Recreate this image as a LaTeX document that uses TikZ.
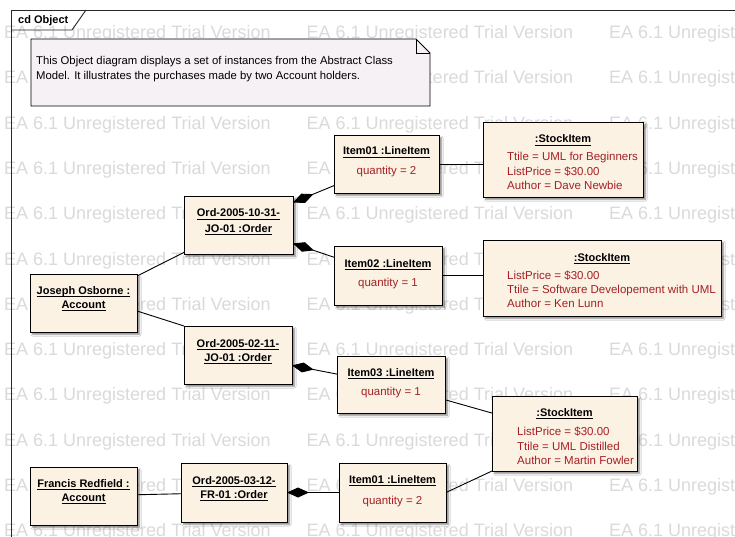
\documentclass[tikz,border=0pt]{standalone}
\usepackage{fontspec}
\setmainfont{Liberation Sans}
\usetikzlibrary{arrows.meta,shadows.blur}

\definecolor{objfill}{RGB}{251,242,228}
\definecolor{notefill}{RGB}{246,241,245}
\definecolor{attred}{RGB}{165,32,36}
\definecolor{wmgray}{RGB}{218,218,218}
\definecolor{framegray}{RGB}{40,40,40}

% underlined object name with a fixed rule position
\newcommand\objname[1]{\begingroup\setbox0=\hbox{#1}\rlap{\rule[-2.6pt]{\wd0}{0.8pt}}\box0\endgroup}
\newcommand\umlfont{\fontsize{11}{13}\selectfont}
\newcommand\valfont{\fontsize{11.5}{13}\selectfont}
\newcommand\commentfont{\fontsize{11.3}{13}\selectfont}

\tikzset{
  obj/.style={draw=black, line width=0.9pt, fill=objfill, inner sep=0pt, outer sep=0pt,
    blur shadow={shadow xshift=2.5pt, shadow yshift=-2.5pt, shadow blur radius=1.5pt, shadow opacity=45}},
  ttl/.style={font=\umlfont\bfseries, anchor=base, inner sep=0pt},
  qty/.style={font=\valfont, text=attred, anchor=base, inner sep=0pt},
  attr/.style={font=\valfont, text=attred, anchor=base west, inner sep=0pt},
  link/.style={draw=black, line width=0.9pt},
  compo/.style={link, {Diamond[length=22pt,width=10pt,fill=black]}-},
  wm/.style={font=\fontsize{18}{20}\selectfont, text=wmgray, anchor=base west, inner sep=0pt},
  frameline/.style={draw=framegray, line width=0.9pt},
  notetext/.style={font=\commentfont, anchor=base west, inner sep=0pt},
}

\begin{document}
\begin{tikzpicture}[x=1pt,y=-1pt]
\useasboundingbox (0,0) rectangle (735,537);
\clip (0,0) rectangle (735,537);
\fill[white] (0,0) rectangle (735,537);

% trial-version watermark rows
\foreach \r in {0,...,11}{
  \foreach \c in {0,1,2}{
    \node[wm, name=wm-\r-\c] at ({4+302.5*\c},{38.5+45.3*\r}) {EA 6.1 Unregistered Trial Version};
  }
}

% diagram frame and its name tab
\draw[frameline] (11,545) -- (11,10) -- (745,10);
\draw[frameline] (11,30) -- (72,30) -- (86,10);
\node[font=\umlfont\bfseries, anchor=base west, inner sep=0pt] (frametitle) at (18,24) {cd Object};

% note with folded corner
\filldraw[fill=notefill, draw=black, line width=0.9pt]
  (31,39) -- (416,39) -- (430,53) -- (430,106) -- (31,106) -- cycle;
\draw[line width=0.9pt] (416,39) -- (416,53) -- (430,53);
\node[notetext] (note1) at (36,65) {This Object diagram displays a set of instances from the Abstract Class};
\node[notetext] (note2) at (36,80) {Model. It illustrates the purchases made by two Account holders.};

% accounts
\node[obj, minimum width=107pt, minimum height=58pt] (jo) at (83.5,303) {};
\node[ttl] (jo-a) at (83.5,294) {\objname{Joseph Osborne :}};
\node[ttl] (jo-b) at (83.5,308) {\objname{Account}};

\node[obj, minimum width=107pt, minimum height=58pt] (fr) at (83.5,496) {};
\node[ttl] (fr-a) at (83.5,487) {\objname{Francis Redfield :}};
\node[ttl] (fr-b) at (83.5,501) {\objname{Account}};

% orders
\node[obj, minimum width=109pt, minimum height=58pt] (o1) at (238.5,225) {};
\node[ttl] (o1-a) at (238.5,217) {\objname{Ord-2005-10-31-}};
\node[ttl] (o1-b) at (238.5,232) {\objname{JO-01 :Order}};

\node[obj, minimum width=108pt, minimum height=58pt] (o2) at (238,355) {};
\node[ttl] (o2-a) at (238,347) {\objname{Ord-2005-02-11-}};
\node[ttl] (o2-b) at (238,361) {\objname{JO-01 :Order}};

\node[obj, minimum width=106pt, minimum height=59pt] (o3) at (234,492.5) {};
\node[ttl] (o3-a) at (234,484) {\objname{Ord-2005-03-12-}};
\node[ttl] (o3-b) at (234,498) {\objname{FR-01 :Order}};

% line items
\node[obj, minimum width=105pt, minimum height=58pt] (i1) at (386.5,164) {};
\node[ttl] (i1-a) at (386.5,155) {\objname{Item01 :LineItem}};
\node[qty] (i1-b) at (386.5,175) {quantity = 2};

\node[obj, minimum width=108pt, minimum height=59pt] (i2) at (388,275.5) {};
\node[ttl] (i2-a) at (388,267) {\objname{Item02 :LineItem}};
\node[qty] (i2-b) at (388,286) {quantity = 1};

\node[obj, minimum width=108pt, minimum height=57pt] (i3) at (391,384.5) {};
\node[ttl] (i3-a) at (391,376) {\objname{Item03 :LineItem}};
\node[qty] (i3-b) at (391,395) {quantity = 1};

\node[obj, minimum width=107pt, minimum height=59pt] (i4) at (392.5,492.5) {};
\node[ttl] (i4-a) at (392.5,483) {\objname{Item01 :LineItem}};
\node[qty] (i4-b) at (392.5,504) {quantity = 2};

% stock items
\node[obj, minimum width=160pt, minimum height=75pt] (s1) at (563,159.5) {};
\node[ttl] (s1-a) at (563,143) {\objname{:StockItem}};
\node[attr] (s1-b) at (507,161) {Ttile = UML for Beginners};
\node[attr] (s1-c) at (507,176) {ListPrice = \$30.00};
\node[attr] (s1-d) at (507,190) {Author = Dave Newbie};

\node[obj, minimum width=238pt, minimum height=76pt] (s2) at (602,278) {};
\node[ttl] (s2-a) at (602,261) {\objname{:StockItem}};
\node[attr] (s2-b) at (507,279) {ListPrice = \$30.00};
\node[attr] (s2-c) at (507,293) {Ttile = Software Developement with UML};
\node[attr] (s2-d) at (507,307) {Author = Ken Lunn};

\node[obj, minimum width=145pt, minimum height=75pt] (s3) at (564.5,433.5) {};
\node[ttl] (s3-a) at (564.5,416) {\objname{:StockItem}};
\node[attr] (s3-b) at (517,435) {ListPrice = \$30.00};
\node[attr] (s3-c) at (517,450) {Ttile = UML Distilled};
\node[attr] (s3-d) at (517,464) {Author = Martin Fowler};

% links
\draw[link] (jo) -- (o1);
\draw[link] ([yshift=-8pt]jo.east) -- (o2.north west);
\draw[link] (fr) -- (o3);
\draw[compo] (o1) -- (i1);
\draw[compo] (o1) -- (i2);
\draw[compo] (o2) -- (i3);
\draw[compo] (o3) -- (i4);
\draw[link] (i1) -- (i1 -| s1.west);
\draw[link] (i2) -- (i2 -| s2.west);
\draw[link] (i3) -- (s3);
\draw[link] (i4.east) -- (s3.south west);
\end{tikzpicture}
\end{document}
